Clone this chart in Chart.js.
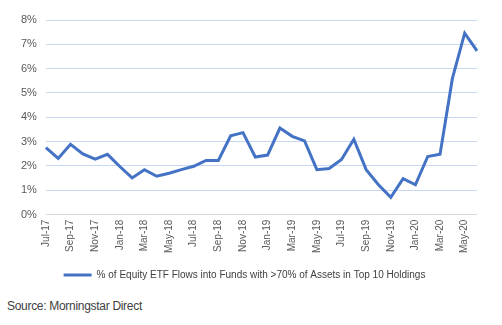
<!DOCTYPE html>
<html>
<head>
<meta charset="utf-8">
<script src="https://cdn.jsdelivr.net/npm/chart.js@4"></script>
<style>
  body { margin: 0; background: #fff; }
  #wrap { position: relative; width: 502px; height: 325px; }
  #source { position: absolute; left: 7px; top: 299px; font: 12px "Liberation Sans Narrow", "Liberation Sans", sans-serif; color: #404040; letter-spacing: -0.3px; }
</style>
</head>
<body>
<div id="wrap">
  <canvas id="lineChart" width="502" height="290"></canvas>
  <div id="source">Source: Morningstar Direct</div>
</div>
<script>
var months = ['Jul-17','Aug-17','Sep-17','Oct-17','Nov-17','Dec-17',
              'Jan-18','Feb-18','Mar-18','Apr-18','May-18','Jun-18',
              'Jul-18','Aug-18','Sep-18','Oct-18','Nov-18','Dec-18',
              'Jan-19','Feb-19','Mar-19','Apr-19','May-19','Jun-19',
              'Jul-19','Aug-19','Sep-19','Oct-19','Nov-19','Dec-19',
              'Jan-20','Feb-20','Mar-20','Apr-20','May-20','Jun-20'];
var flowShare = [2.75, 2.31, 2.89, 2.50, 2.28, 2.48,
                 1.98, 1.51, 1.85, 1.58, 1.70, 1.85,
                 1.99, 2.23, 2.23, 3.24, 3.37, 2.37,
                 2.45, 3.56, 3.22, 3.03, 1.85, 1.90,
                 2.27, 3.10, 1.85, 1.23, 0.71, 1.48,
                 1.23, 2.39, 2.48, 5.59, 7.46, 6.73];
var seriesName = '% of Equity ETF Flows into Funds with >70% of Assets in Top 10 Holdings';

window.onload = function() {
    var ctx = document.getElementById('lineChart').getContext('2d');
    var narrow = '"Liberation Sans Narrow", "Liberation Sans", sans-serif';
    new Chart(ctx, {
        type: 'line',
        data: {
            labels: months,
            datasets: [{
                label: seriesName,
                data: flowShare,
                borderColor: '#4472c4',
                backgroundColor: '#4472c4',
                borderWidth: 3,
                pointRadius: 0,
                tension: 0,
                fill: false
            }]
        },
        options: {
            responsive: false,
            animation: false,
            layout: { padding: { top: 20, right: 25, left: 12, bottom: 0 } },
            scales: {
                x: {
                    grid: { display: false, drawTicks: false },
                    border: { display: false },
                    ticks: {
                        autoSkip: false,
                        minRotation: 90,
                        maxRotation: 90,
                        padding: 5,
                        color: '#595959',
                        font: { family: narrow, size: 10 },
                        callback: function(v, i) {
                            return i % 2 === 0 ? months[i] : '';
                        }
                    }
                },
                y: {
                    min: 0,
                    max: 8,
                    grid: {
                        drawTicks: false,
                        color: function(c) { return c.tick.value === 0 ? '#d9d9d9' : '#c9d8f2'; }
                    },
                    border: { display: false },
                    ticks: {
                        stepSize: 1,
                        padding: 9,
                        color: '#595959',
                        font: { family: narrow, size: 11 },
                        callback: function(v) { return v + '%'; }
                    }
                }
            },
            plugins: {
                legend: {
                    position: 'bottom',
                    labels: {
                        boxWidth: 28,
                        boxHeight: 3,
                        padding: 12,
                        color: '#404040',
                        font: { family: narrow, size: 10 },
                        generateLabels: function(chart) {
                            var items = Chart.defaults.plugins.legend.labels.generateLabels(chart);
                            items.forEach(function(it) { it.lineWidth = 0; });
                            return items;
                        }
                    }
                },
                tooltip: { enabled: false }
            }
        }
    });
};
</script>
</body>
</html>
